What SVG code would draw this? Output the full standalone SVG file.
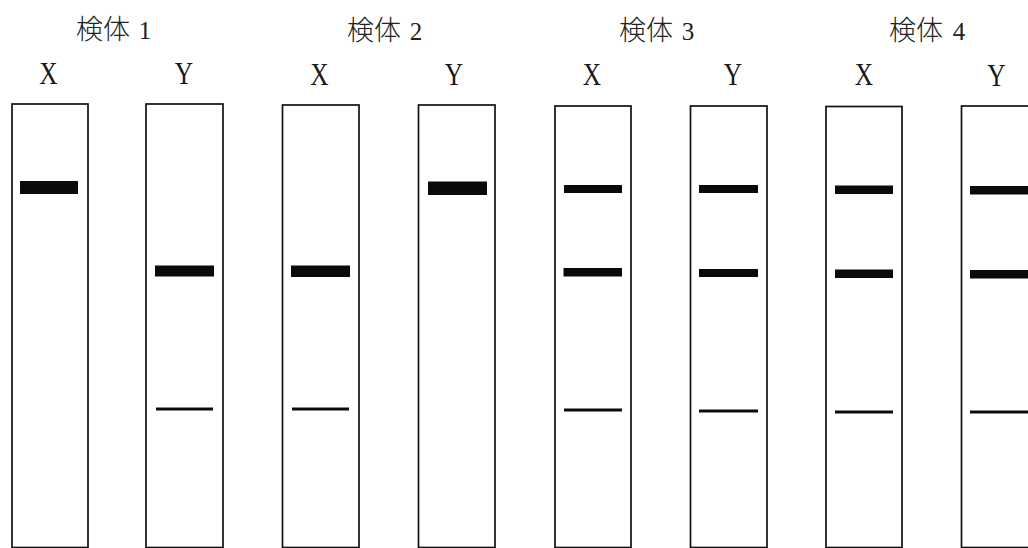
<svg xmlns="http://www.w3.org/2000/svg" width="1028" height="548" viewBox="0 0 1028 548">
  <style>
    .lane { fill: #ffffff; stroke: #111111; stroke-width: 1.7; }
    .band { fill: #0a0a0a; }
    .kanji { font-family: "Noto Sans CJK JP", "Noto Sans CJK SC", sans-serif; font-size: 27px; font-weight: 300; fill: #222222; }
    .num { font-family: "Liberation Serif", serif; font-size: 25px; fill: #222222; text-anchor: middle; }
    .lbl { font-family: "Liberation Serif", serif; font-size: 31px; fill: #1a1a1a; text-anchor: middle; }
  </style>
  <rect width="1028" height="548" fill="#ffffff"/>

  <!-- sample titles -->
  <g id="titles">
    <g id="title-1"><text class="kanji" x="76" y="39">検体</text><text class="num" x="145" y="39">1</text></g>
    <g id="title-2"><text class="kanji" x="347" y="40">検体</text><text class="num" x="416" y="40">2</text></g>
    <g id="title-3"><text class="kanji" x="619" y="40">検体</text><text class="num" x="688" y="40">3</text></g>
    <g id="title-4"><text class="kanji" x="889" y="40">検体</text><text class="num" x="959" y="40">4</text></g>
  </g>

  <!-- lane letters (narrowed serif) -->
  <g id="lane-labels">
    <text class="lbl" transform="translate(48.5,84) scale(0.82,1)">X</text>
    <text class="lbl" transform="translate(184,84) scale(0.82,1)">Y</text>
    <text class="lbl" transform="translate(319.5,85) scale(0.82,1)">X</text>
    <text class="lbl" transform="translate(454,85) scale(0.82,1)">Y</text>
    <text class="lbl" transform="translate(592,85) scale(0.82,1)">X</text>
    <text class="lbl" transform="translate(733,85) scale(0.82,1)">Y</text>
    <text class="lbl" transform="translate(864,85) scale(0.82,1)">X</text>
    <text class="lbl" transform="translate(996.5,86) scale(0.82,1)">Y</text>
  </g>

  <!-- gel lanes with bands -->
  <g id="lane-1X">
    <rect class="lane" x="12" y="104" width="76" height="443.5"/>
    <rect class="band" x="20" y="181" width="58" height="13"/>
  </g>
  <g id="lane-1Y">
    <rect class="lane" x="146" y="104" width="77" height="443.5"/>
    <rect class="band" x="155" y="265.5" width="59" height="11"/>
    <rect class="band" x="156" y="407.5" width="57" height="3"/>
  </g>
  <g id="lane-2X">
    <rect class="lane" x="282.5" y="105" width="76.5" height="442.5"/>
    <rect class="band" x="291" y="265.5" width="59" height="11.5"/>
    <rect class="band" x="292" y="407.5" width="57" height="3"/>
  </g>
  <g id="lane-2Y">
    <rect class="lane" x="418.5" y="105" width="76.5" height="442.5"/>
    <rect class="band" x="428" y="181.5" width="59" height="13.5"/>
  </g>
  <g id="lane-3X">
    <rect class="lane" x="555" y="106" width="76" height="441.5"/>
    <rect class="band" x="564" y="185" width="58" height="8"/>
    <rect class="band" x="563.5" y="268" width="58.5" height="8.5"/>
    <rect class="band" x="564" y="408.5" width="58" height="3"/>
  </g>
  <g id="lane-3Y">
    <rect class="lane" x="690.5" y="106" width="76.5" height="441.5"/>
    <rect class="band" x="699" y="185" width="59" height="8"/>
    <rect class="band" x="699" y="269" width="59" height="8"/>
    <rect class="band" x="699" y="409.5" width="59" height="3"/>
  </g>
  <g id="lane-4X">
    <rect class="lane" x="826" y="106.5" width="76" height="441"/>
    <rect class="band" x="835" y="185.5" width="58" height="8.5"/>
    <rect class="band" x="835" y="269.5" width="58" height="8.5"/>
    <rect class="band" x="835" y="410.5" width="58" height="3"/>
  </g>
  <g id="lane-4Y">
    <rect class="lane" x="961.5" y="106" width="78" height="441.5"/>
    <rect class="band" x="970" y="186" width="60" height="8.5"/>
    <rect class="band" x="970" y="270" width="60" height="8.5"/>
    <rect class="band" x="970" y="410.5" width="60" height="3"/>
  </g>

  <!-- no connectors in this figure -->
  <g id="connectors"/>
</svg>
